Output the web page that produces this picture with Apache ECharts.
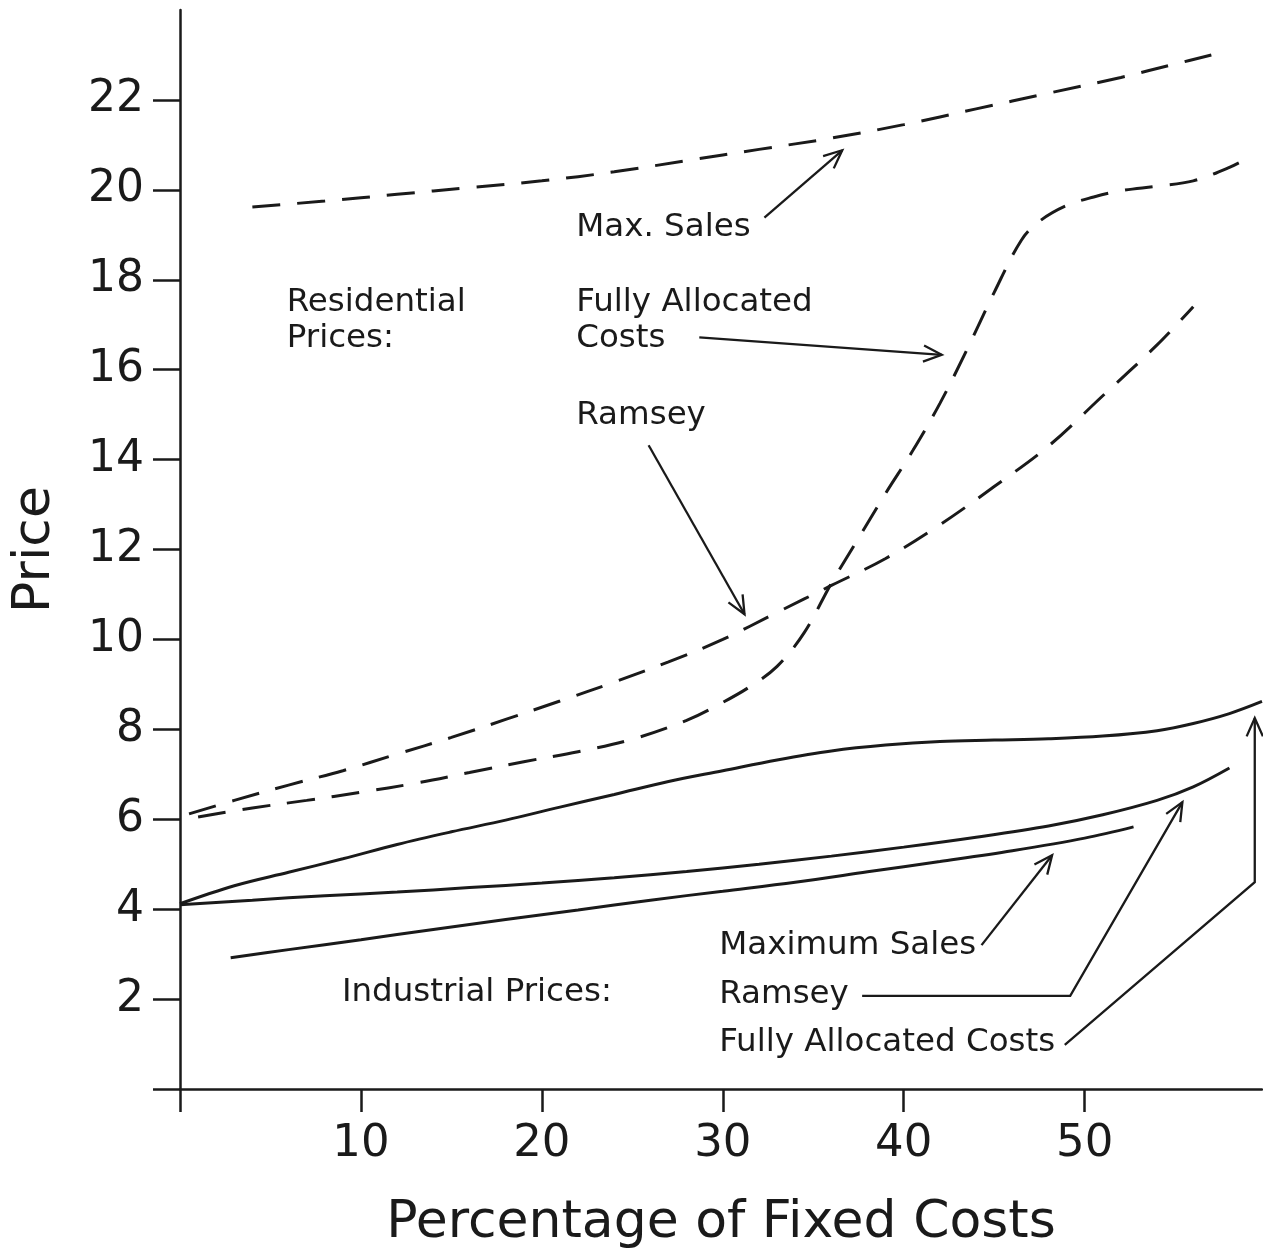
<!DOCTYPE html>
<html>
<head>
<meta charset="utf-8">
<script src="https://cdn.jsdelivr.net/npm/echarts@6/dist/echarts.min.js"></script>
<style>
html,body{margin:0;padding:0;background:#fff;}
#chart{width:1263px;height:1251px;}
</style>
</head>
<body>
<div id="chart"></div>
<script>
// ---- Data ----
const xTicks = [0, 10, 20, 30, 40, 50];
const xLabels = [10, 20, 30, 40, 50];
const yTicks = [0, 2, 4, 6, 8, 10, 12, 14, 16, 18, 20, 22];
const yLabels = [2, 4, 6, 8, 10, 12, 14, 16, 18, 20, 22];

// Residential prices (dashed)
const resMaxSalesX = [4, 8, 12, 16, 20, 24, 28, 32, 36, 40, 44, 48, 52, 55, 57];
const resMaxSalesY = [19.62, 19.75, 19.9, 20.05, 20.2, 20.4, 20.65, 20.9, 21.15, 21.45, 21.8, 22.15, 22.5, 22.8, 23.0];

const resRamseyX = [0.5, 3, 6, 9, 12, 15, 18, 21, 24, 27, 30, 33, 36, 39, 42, 45, 48, 51, 54, 56];
const resRamseyY = [6.12, 6.42, 6.76, 7.08, 7.45, 7.82, 8.22, 8.63, 9.05, 9.5, 10.0, 10.6, 11.2, 11.8, 12.55, 13.4, 14.3, 15.42, 16.55, 17.4];

const resFacX = [1, 4, 7, 10, 13, 16, 19, 22, 25, 28, 30, 31.5, 33, 34.5, 36, 37.5, 39, 40.5, 42, 43.5, 45, 46.5, 47.5, 49, 50.5, 52, 54, 56, 58, 59.2];
const resFacY = [6.05, 6.25, 6.42, 6.6, 6.8, 7.04, 7.28, 7.5, 7.78, 8.2, 8.6, 8.95, 9.4, 10.15, 11.25, 12.25, 13.25, 14.2, 15.25, 16.45, 17.72, 18.88, 19.3, 19.65, 19.84, 19.98, 20.08, 20.2, 20.5, 20.75];

// Industrial prices (solid)
const indFacX = [0, 3, 6, 9, 12, 15, 18, 21, 24, 27, 30, 33, 36, 39, 42, 45, 48, 51, 54, 56, 58, 59.8];
const indFacY = [4.12, 4.52, 4.82, 5.12, 5.44, 5.72, 5.98, 6.27, 6.55, 6.84, 7.08, 7.32, 7.52, 7.65, 7.73, 7.76, 7.79, 7.85, 7.97, 8.13, 8.35, 8.62];

const indRamseyX = [0, 4, 8, 12, 16, 20, 24, 28, 32, 36, 40, 44, 48, 51, 54, 56, 58];
const indRamseyY = [4.1, 4.2, 4.3, 4.38, 4.48, 4.58, 4.7, 4.84, 5.0, 5.18, 5.38, 5.6, 5.85, 6.1, 6.42, 6.72, 7.14];

const indMaxSalesX = [2.8, 6, 10, 14, 18, 22, 26, 30, 34, 38, 42, 46, 50, 52.7];
const indMaxSalesY = [2.92, 3.1, 3.32, 3.55, 3.77, 3.98, 4.2, 4.4, 4.6, 4.83, 5.06, 5.3, 5.58, 5.83];

// Annotation texts: [text, x, y] in data units (left edge, vertical middle)
const annoTexts = [
  ['Max. Sales', 21.9, 19.15],
  ['Residential', 5.9, 17.5],
  ['Prices:', 5.9, 16.7],
  ['Fully Allocated', 21.9, 17.5],
  ['Costs', 21.9, 16.7],
  ['Ramsey', 21.9, 14.98],
  ['Maximum Sales', 29.8, 3.19],
  ['Ramsey', 29.8, 2.1],
  ['Fully Allocated Costs', 29.8, 1.03],
  ['Industrial Prices:', 8.95, 2.14]
];

// Annotation arrows: polylines in data units, arrowhead at last point
const annoArrows = [
  [[32.3, 19.38], [36.6, 20.88]],
  [[28.7, 16.72], [42.1, 16.33]],
  [[25.9, 14.32], [31.2, 10.56]],
  [[44.3, 3.2], [48.2, 5.2]],
  [[37.7, 2.07], [49.2, 2.07], [55.4, 6.38]],
  [[48.9, 0.98], [59.4, 4.6], [59.4, 8.25]]
];

const xMax = 59.8, yMax = 24;
const ink = '#1a1a1a';
const FONT = '"DejaVu Sans", "Liberation Sans", sans-serif';

function pairs(xs, ys) { return xs.map((x, i) => [x, ys[i]]); }

function lineSeries(name, xs, ys, dashed) {
  return {
    name: name, type: 'line', data: pairs(xs, ys), smooth: 0.35,
    showSymbol: false, symbol: 'none', clip: false,
    lineStyle: { color: ink, width: 3, type: dashed ? [28, 17] : 'solid' },
    z: 3
  };
}

const chart = echarts.init(document.getElementById('chart'), null, { renderer: 'canvas' });
chart.setOption({
  animation: false,
  backgroundColor: '#fff',
  grid: { left: 180, top: 10, width: 1082, height: 1079, containLabel: false, outerBoundsMode: 'none' },
  xAxis: {
    type: 'value', min: 0, max: xMax,
    name: 'Percentage of Fixed Costs', nameLocation: 'middle', nameGap: 108,
    nameTextStyle: { fontFamily: FONT, fontSize: 52, color: ink },
    axisLine: { show: true, lineStyle: { color: ink, width: 2.5 } },
    axisTick: { show: true, length: 23, customValues: xTicks, lineStyle: { color: ink, width: 2.5 } },
    axisLabel: { show: true, customValues: xLabels, fontFamily: FONT, fontSize: 45, color: ink, margin: 33 },
    splitLine: { show: false }
  },
  yAxis: {
    type: 'value', min: 0, max: yMax,
    name: 'Price', nameLocation: 'middle', nameGap: 119, nameRotate: 90,
    nameTextStyle: { fontFamily: FONT, fontSize: 52, color: ink },
    axisLine: { show: true, lineStyle: { color: ink, width: 2.5 } },
    axisTick: { show: true, length: 27, customValues: yTicks, lineStyle: { color: ink, width: 2.5 } },
    axisLabel: { show: true, customValues: yLabels, fontFamily: FONT, fontSize: 44, color: ink, margin: 36 },
    splitLine: { show: false }
  },
  series: [
    lineSeries('Residential Max. Sales', resMaxSalesX, resMaxSalesY, true),
    lineSeries('Residential Ramsey', resRamseyX, resRamseyY, true),
    lineSeries('Residential Fully Allocated Costs', resFacX, resFacY, true),
    lineSeries('Industrial Fully Allocated Costs', indFacX, indFacY, false),
    lineSeries('Industrial Ramsey', indRamseyX, indRamseyY, false),
    lineSeries('Industrial Maximum Sales', indMaxSalesX, indMaxSalesY, false),
    {
      type: 'custom', name: 'arrows', clip: false, silent: true, z: 4,
      data: annoArrows.map(a => a[a.length - 1]),
      renderItem: function (params, api) {
        const pts = annoArrows[params.dataIndex].map(p => api.coord(p));
        const n = pts.length;
        const x2 = pts[n - 1][0], y2 = pts[n - 1][1];
        const x1 = pts[n - 2][0], y1 = pts[n - 2][1];
        const ang = Math.atan2(y2 - y1, x2 - x1);
        const L = 20, a = Math.PI / 7.5;
        const h1 = [x2 - L * Math.cos(ang - a), y2 - L * Math.sin(ang - a)];
        const h2 = [x2 - L * Math.cos(ang + a), y2 - L * Math.sin(ang + a)];
        return {
          type: 'group', children: [
            { type: 'polyline', shape: { points: pts }, style: { stroke: ink, lineWidth: 2.3, fill: null } },
            { type: 'polyline', shape: { points: [h1, [x2, y2], h2] }, style: { stroke: ink, lineWidth: 2.3, fill: null } }
          ]
        };
      }
    },
    {
      type: 'custom', name: 'labels', clip: false, silent: true, z: 5,
      data: annoTexts.map(t => [t[1], t[2]]),
      renderItem: function (params, api) {
        const t = annoTexts[params.dataIndex];
        const p = api.coord([t[1], t[2]]);
        return {
          type: 'text', x: p[0], y: p[1],
          style: { text: t[0], fontFamily: FONT, fontSize: 32.5, fill: ink, align: 'left', verticalAlign: 'middle' }
        };
      }
    }
  ]
});
</script>
</body>
</html>
